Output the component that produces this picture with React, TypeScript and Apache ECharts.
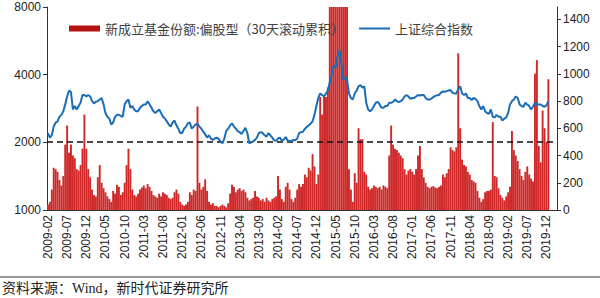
import React, { useEffect, useRef } from "react";
import * as echarts from "echarts";

// Half-month categories: 2009-02 .. 2020-02 (two points per month)
const startYear = 2009;
const startMonth = 2;
const monthCount = 133;
const categories: string[] = [];
for (let i = 0; i < monthCount; i++) {
  const y = startYear + Math.floor((startMonth - 1 + i) / 12);
  const m = ((startMonth - 1 + i) % 12) + 1;
  const mm = m < 10 ? "0" + m : "" + m;
  categories.push(`${y}-${mm}-01`, `${y}-${mm}-16`);
}

const barName = "新成立基金份额:偏股型（30天滚动累积）";
const lineName = "上证综合指数";

// 新成立基金份额 (right axis), two values per month
const fundShares: (number | null)[] = [
  // 2009 (Feb-Dec)
  40, 60, 150, 310, 300, 280, 220, 180, 250, 480, 620, 420, 480, 400, 380, 300, 290, 330, 450, 700, 450, 300,
  // 2010
  240, 150, 110, 100, 240, 330, 200, 160, 130, 100, 80, 60, 140, 120, 185, 170, 110, 130, 200, 330, 450, 300, 150, 110,
  // 2011
  100, 120, 150, 165, 180, 160, 190, 170, 140, 110, 100, 90, 120, 100, 130, 120, 110, 90, 80, 90, 130, 150, 120, 60,
  // 2012
  40, 30, 40, 60, 130, 110, 150, 140, 760, 200, 150, 170, 225, 140, 60, 40, 50, 30, 30, 20, 30, 40, 30, 20,
  // 2013
  50, 120, 185, 170, 130, 150, 160, 140, 150, 130, 90, 70, 80, 90, 140, 100, 90, 70, 80, 60, 90, 70, 60, 80,
  // 2014
  90, 100, 250, 150, 80, 60, 170, 200, 150, 80, 60, 90, 150, 190, 170, 190, 260, 240, 310, 290, 410, 320, 190, 260,
  // 2015
  830, 700, 830, 830, 900, 2500, 3000, 3500, 3500, 3800, 4000, 3500, 2500, 1800, 1600, 300, 150, 60, 270, 200, 600, 520, 520, 280,
  // 2016
  260, 170, 150, 160, 180, 170, 160, 170, 150, 180, 170, 160, 400, 620, 480, 450, 440, 420, 400, 380, 300, 260, 290, 300,
  // 2017
  280, 260, 300, 400, 470, 300, 240, 200, 170, 160, 170, 175, 165, 160, 170, 180, 260, 240, 270, 300, 460, 440, 430, 460,
  // 2018
  1150, 600, 370, 330, 320, 280, 260, 220, 210, 200, 140, 90, 60, 80, 130, 140, 140, 150, 645, 250, 240, 160, 110, 90,
  // 2019
  70, 100, 130, 170, 580, 440, 400, 360, 300, 250, 220, 280, 320, 260, 230, 210, 1000, 1100, 470, 350, 730, 600, 500, 960,
  // 2020 (Jan-Feb)
  null, null, null, null,
];

// 上证综合指数 (left log axis), two values per month
const sseIndex: (number | null)[] = [
  // 2009 (Feb-Dec)
  2200, 2100, 2150, 2350, 2450, 2480, 2600, 2650, 2750, 2950, 3200, 3400, 3350, 2800, 2900, 2800, 2900, 3000, 3250, 3250, 3200, 3250,
  // 2010
  3200, 3050, 2980, 3030, 3050, 3100, 3150, 2950, 2700, 2600, 2550, 2400, 2450, 2600, 2650, 2650, 2620, 2600, 2950, 3050, 3100, 2850, 2900, 2800,
  // 2011
  2750, 2750, 2850, 2900, 2950, 2950, 3050, 2950, 2850, 2750, 2700, 2750, 2800, 2700, 2600, 2550, 2480, 2400, 2350, 2450, 2500, 2380, 2300, 2200,
  // 2012
  2200, 2300, 2350, 2430, 2450, 2300, 2350, 2400, 2420, 2350, 2300, 2230, 2170, 2100, 2150, 2080, 2050, 2080, 2100, 2070, 2020, 1980, 2080, 2250,
  // 2013
  2300, 2380, 2430, 2350, 2300, 2240, 2220, 2180, 2250, 2320, 2200, 1980, 2000, 2020, 2050, 2100, 2200, 2220, 2200, 2150, 2120, 2200, 2150, 2100,
  // 2014
  2040, 2030, 2080, 2100, 2030, 2060, 2110, 2040, 2030, 2030, 2050, 2040, 2080, 2200, 2220, 2230, 2300, 2340, 2380, 2420, 2480, 2650, 2900, 3150,
  // 2015
  3300, 3250, 3200, 3300, 3400, 3700, 4000, 4400, 4300, 4800, 5150, 4500, 3800, 3900, 3800, 3300, 3150, 3100, 3300, 3400, 3550, 3600, 3500, 3550,
  // 2016
  3000, 2800, 2750, 2800, 2900, 3000, 3030, 2950, 2850, 2850, 2900, 2900, 3000, 3000, 3030, 3100, 3050, 3020, 3050, 3100, 3200, 3250, 3200, 3120,
  // 2017
  3150, 3150, 3200, 3250, 3230, 3250, 3250, 3150, 3100, 3100, 3130, 3180, 3220, 3240, 3250, 3330, 3370, 3360, 3380, 3400, 3420, 3320, 3300, 3300,
  // 2018
  3450, 3550, 3300, 3250, 3300, 3150, 3150, 3080, 3150, 3120, 3050, 2900, 2800, 2900, 2750, 2700, 2680, 2800, 2600, 2580, 2650, 2600, 2600, 2500,
  // 2019
  2550, 2580, 2700, 2950, 3050, 3100, 3200, 3150, 2950, 2900, 2880, 3000, 2950, 2900, 2800, 2880, 3000, 2950, 2950, 2950, 2900, 2880, 2920, 3050,
  // 2020 (Jan-Feb)
  null, null, null, null,
];

// Left axis tick labels (log scale, doubling)
const leftTicks = [1000, 2000, 4000, 8000];
const thresholdLine = 500;

const every5Months = (index: number) => index % 10 === 0;

export default function App() {
  const ref = useRef<HTMLDivElement>(null);
  useEffect(() => {
    if (!ref.current) return;
    const chart = echarts.init(ref.current, undefined, { renderer: "svg" });
    const axisColor = "#333";
    const labelColor = "#222";
    const font = "'Liberation Sans', Arial, sans-serif";
    chart.setOption({
      animation: false,
      backgroundColor: "#fff",
      grid: { left: 47, right: 43, top: 7, bottom: 88 },
      legend: {
        left: 64,
        top: 17,
        itemWidth: 31,
        itemHeight: 6,
        itemGap: 14,
        textStyle: { fontSize: 13, color: "#404040", fontFamily: "'Noto Sans CJK SC', sans-serif" },
        data: [
          { name: barName, icon: "rect", itemStyle: { color: "#B51212" } },
          { name: lineName, itemStyle: { opacity: 0 } },
        ],
      },
      xAxis: {
        type: "category",
        data: categories,
        boundaryGap: true,
        axisLine: { lineStyle: { color: axisColor, width: 1 } },
        axisTick: { alignWithLabel: true, interval: every5Months, length: 4, lineStyle: { color: axisColor } },
        axisLabel: {
          interval: every5Months,
          rotate: 90,
          margin: 5,
          fontSize: 12,
          color: labelColor,
          fontFamily: font,
          formatter: (v: string) => v.slice(0, 7),
        },
        splitLine: { show: false },
      },
      yAxis: [
        {
          type: "value",
          min: 0,
          max: leftTicks.length - 1,
          interval: 1,
          position: "left",
          axisLine: { show: true, lineStyle: { color: axisColor } },
          axisTick: { show: true, length: 4, lineStyle: { color: axisColor } },
          splitLine: { show: false },
          axisLabel: {
            fontSize: 12,
            color: labelColor,
            fontFamily: font,
            margin: 6,
            formatter: (v: number) => String(leftTicks[Math.round(v)] ?? ""),
          },
        },
        {
          type: "log",
          logBase: 2,
          min: leftTicks[0],
          max: leftTicks[leftTicks.length - 1],
          show: false,
          position: "left",
        },
        {
          type: "value",
          min: 0,
          max: 1490,
          interval: 200,
          position: "right",
          axisLine: { show: true, lineStyle: { color: axisColor } },
          axisTick: { show: true, length: 4, lineStyle: { color: axisColor } },
          splitLine: { show: false },
          axisLabel: {
            fontSize: 12,
            color: labelColor,
            fontFamily: font,
            margin: 6,
            showMaxLabel: false,
            formatter: (v: number) => String(v),
          },
        },
      ],
      series: [
        {
          name: barName,
          type: "bar",
          yAxisIndex: 2,
          data: fundShares,
          barCategoryGap: "0%",
          itemStyle: { color: "#D02828" },
          markLine: {
            silent: true,
            symbol: ["none", "none"],
            label: { show: false },
            lineStyle: { color: "#111", type: [6, 4], width: 1.5 },
            data: [{ yAxis: thresholdLine }],
          },
        },
        {
          name: lineName,
          type: "line",
          yAxisIndex: 1,
          data: sseIndex,
          symbol: "none",
          connectNulls: false,
          lineStyle: { color: "#1B6DB6", width: 2 },
          itemStyle: { color: "#1B6DB6" },
          z: 5,
        },
      ],
      graphic: [
        {
          type: "line",
          shape: { x1: 0, y1: 277, x2: 600, y2: 277 },
          style: { stroke: "#777", lineWidth: 1.5 },
        },
        {
          type: "text",
          x: 2,
          y: 281,
          style: {
            text: "资料来源：Wind，新时代证券研究所",
            fontSize: 14,
            fill: "#222",
            fontFamily: "'Liberation Serif', 'Noto Sans CJK SC', serif",
          },
        },
      ],
    });
    return () => chart.dispose();
  }, []);
  return (
    <div
      ref={ref}
      style={{ position: "fixed", left: 0, top: 0, width: 600, height: 298, background: "#fff" }}
    />
  );
}
